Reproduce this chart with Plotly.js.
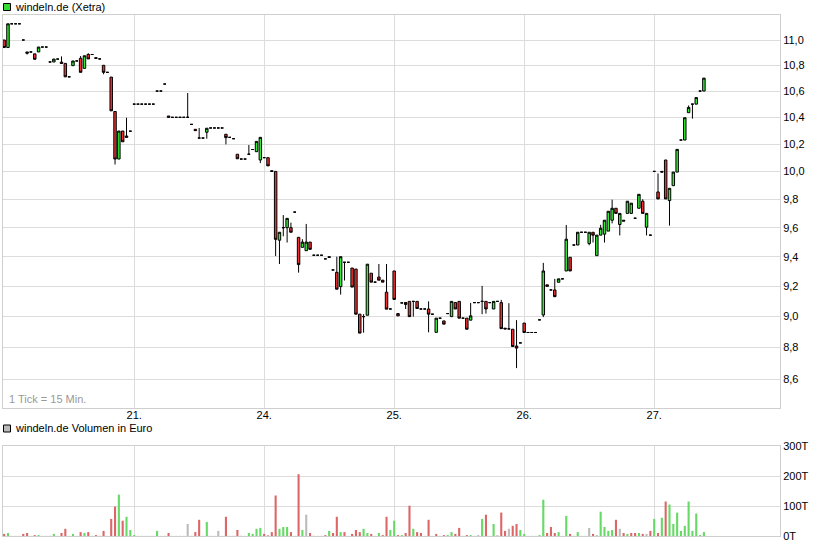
<!DOCTYPE html>
<html><head><meta charset="utf-8">
<script src="https://cdn.plot.ly/plotly-3.0.1.min.js"></script>
<style>html,body{margin:0;padding:0;background:#fff}#chart{width:821px;height:546px}</style>
</head><body><div id="chart"></div>
<script>
// 15-minute ticks; each trading day has 34 ticks (9:00 - 17:15)
const dayLabels = ['21.', '24.', '25.', '26.', '27.'];
const dayStartTicks = [34, 68, 102, 136, 170];
const priceTicks = [8.6, 8.8, 9.0, 9.2, 9.4, 9.6, 9.8, 10.0, 10.2, 10.4, 10.6, 10.8, 11.0];
const volumeTicks = [0, 100, 200, 300];

const opens = [
  11.00,10.94,11.13,11.13,11.13,11.00,10.905,10.905,10.89,10.905,10.944,10.944,10.826,10.826,10.849,10.825,10.815,10.71,10.797,10.834,10.855,10.776,10.885,10.885,10.86,10.85,10.80,10.745,10.708,10.444,10.09,10.297,10.26,10.296,
  10.50,10.50,10.50,10.50,10.50,10.50,10.60,10.60,10.654,10.41,10.40,10.40,10.40,10.40,10.40,10.347,10.31,10.245,10.245,10.288,10.32,10.32,10.32,10.32,10.273,10.25,10.24,10.125,10.09,10.09,10.125,10.16,10.144,10.083,
  10.10,10.10,10.005,10.00,9.513,9.60,9.60,9.60,9.709,9.533,9.464,9.441,9.50,9.41,9.41,9.41,9.385,9.40,9.31,9.294,9.198,9.362,9.362,9.323,9.316,9.016,9.00,9.009,9.288,9.228,9.262,9.241,9.161,9.05,
  9.303,9.02,9.09,9.093,9.10,9.10,9.10,9.05,9.05,9.05,9.016,8.898,8.99,8.972,9.02,9.00,9.093,9.10,8.99,8.99,8.977,9.092,9.092,9.10,9.10,9.092,9.05,9.10,9.092,8.925,8.92,8.918,8.81,8.83,
  8.958,8.897,8.897,8.897,8.979,9.011,9.21,9.176,9.176,9.227,9.25,9.303,9.396,9.48,9.48,9.568,9.568,9.49,9.568,9.407,9.548,9.555,9.576,9.652,9.736,9.622,9.652,9.70,9.70,9.666,9.736,9.786,9.603,9.548,
  10.00,9.852,10.00,10.083,9.79,9.897,9.995,10.23,10.23,10.435,10.50,10.50,10.60,10.60
];
const highs = [
  11.00,11.13,11.13,11.13,11.13,11.00,10.905,10.905,10.89,10.944,10.944,10.944,10.826,10.849,10.849,10.87,10.815,10.71,10.834,10.834,10.873,10.875,10.895,10.885,10.86,10.85,10.80,10.745,10.708,10.444,10.297,10.297,10.397,10.296,
  10.50,10.50,10.50,10.50,10.50,10.50,10.60,10.60,10.654,10.41,10.40,10.40,10.40,10.40,10.585,10.347,10.31,10.32,10.245,10.318,10.32,10.32,10.32,10.32,10.273,10.25,10.24,10.125,10.09,10.09,10.193,10.16,10.22,10.25,
  10.10,10.10,10.005,10.00,9.568,9.688,9.665,9.635,9.709,9.533,9.52,9.626,9.50,9.41,9.41,9.41,9.385,9.40,9.31,9.40,9.40,9.362,9.362,9.323,9.316,9.016,9.016,9.349,9.288,9.228,9.35,9.241,9.35,9.05,
  9.303,9.02,9.09,9.093,9.10,9.10,9.10,9.05,9.05,9.10,9.016,8.99,8.99,8.972,9.02,9.10,9.093,9.10,8.99,8.99,9.09,9.092,9.092,9.203,9.10,9.092,9.10,9.10,9.11,8.925,9.088,8.918,8.977,8.83,
  8.958,8.897,8.897,8.897,8.979,9.358,9.21,9.176,9.25,9.25,9.25,9.619,9.396,9.48,9.568,9.568,9.568,9.568,9.568,9.548,9.62,9.652,9.715,9.797,9.736,9.70,9.652,9.786,9.772,9.666,9.835,9.80,9.70,9.548,
  10.00,9.985,10.00,10.083,9.878,9.995,10.161,10.23,10.397,10.49,10.50,10.55,10.60,10.70
];
const lows = [
  10.94,10.94,11.13,11.13,11.13,11.00,10.885,10.905,10.847,10.905,10.944,10.944,10.826,10.826,10.849,10.815,10.71,10.71,10.797,10.834,10.745,10.776,10.85,10.885,10.855,10.85,10.73,10.745,10.449,10.05,10.09,10.217,10.25,10.296,
  10.50,10.50,10.50,10.50,10.50,10.50,10.60,10.60,10.654,10.40,10.40,10.40,10.40,10.40,10.40,10.347,10.30,10.245,10.245,10.24,10.32,10.32,10.32,10.32,10.198,10.25,10.24,10.092,10.09,10.09,10.125,10.16,10.144,10.06,
  10.10,10.04,10.00,9.404,9.35,9.54,9.497,9.568,9.709,9.292,9.464,9.441,9.45,9.41,9.41,9.41,9.385,9.395,9.31,9.181,9.145,9.239,9.362,9.195,9.016,8.893,8.896,9.009,9.228,9.228,9.241,9.228,9.049,9.05,
  9.113,9.005,9.09,9.05,9.00,9.00,9.053,9.05,9.05,8.898,9.016,8.898,8.99,8.951,9.02,9.00,9.05,8.99,8.99,8.918,8.977,9.092,9.092,9.016,9.02,9.092,9.05,9.10,8.922,8.92,8.92,8.807,8.67,8.83,
  8.897,8.897,8.897,8.897,8.979,8.997,9.20,9.176,9.131,9.227,9.25,9.303,9.303,9.48,9.48,9.568,9.568,9.478,9.497,9.407,9.548,9.497,9.576,9.63,9.70,9.546,9.646,9.70,9.70,9.666,9.736,9.70,9.546,9.548,
  10.00,9.802,9.995,9.802,9.614,9.897,9.995,10.23,10.23,10.435,10.39,10.50,10.60,10.60
];
const closes = [
  10.94,11.13,11.13,11.13,11.13,11.00,10.895,10.905,10.847,10.944,10.944,10.944,10.826,10.849,10.849,10.815,10.71,10.71,10.834,10.834,10.745,10.875,10.85,10.885,10.855,10.85,10.745,10.745,10.449,10.09,10.297,10.217,10.25,10.296,
  10.50,10.50,10.50,10.50,10.50,10.50,10.60,10.60,10.654,10.40,10.40,10.40,10.40,10.40,10.40,10.347,10.30,10.245,10.245,10.318,10.32,10.32,10.32,10.32,10.248,10.25,10.24,10.092,10.09,10.09,10.125,10.16,10.22,10.25,
  10.10,10.04,10.00,9.519,9.568,9.60,9.665,9.568,9.709,9.346,9.50,9.50,9.45,9.41,9.41,9.41,9.385,9.395,9.31,9.181,9.40,9.362,9.362,9.195,9.016,8.893,9.00,9.349,9.228,9.228,9.241,9.228,9.049,9.05,
  9.113,9.005,9.09,9.08,9.00,9.10,9.053,9.05,9.05,9.016,9.016,8.99,8.99,8.951,9.02,9.10,9.05,8.99,8.99,8.918,9.005,9.092,9.092,9.10,9.05,9.092,9.10,9.10,8.922,8.92,8.92,8.807,8.797,8.83,
  8.897,8.897,8.897,8.897,8.979,9.303,9.20,9.176,9.131,9.25,9.25,9.52,9.303,9.48,9.568,9.568,9.568,9.568,9.548,9.548,9.596,9.652,9.715,9.736,9.70,9.70,9.646,9.786,9.772,9.666,9.835,9.70,9.70,9.548,
  10.00,9.802,9.995,9.802,9.878,9.995,10.161,10.23,10.397,10.475,10.50,10.55,10.60,10.70
];
// volume in thousand euro (T)
const volumes = [
  7,10,0.5,0.5,0.5,7,10,0.5,3,3,0.5,0.5,0.5,7,0.5,10,24,0.5,7,0.5,13,10,13,0.5,3,0.5,17,0.5,57,98,138,51,64,20,
  3,0.5,0.5,0.5,0.5,0.5,17,0.5,0.5,10,0.5,0.5,0.5,0.5,40,0.5,13,54,0.5,47,0.5,0.5,17,0.5,64,0.5,0.5,20,0.5,0.5,10,7,24,27,
  7,2,13,135,24,30,30,13,0.5,206,20,71,10,0.5,0.5,0.5,3,17,10,64,13,13,0.5,7,20,13,24,10,7,0.5,10,3,64,20,
  51,3,3,10,101,24,13,10,0.5,54,0.5,7,0.5,3,3,13,7,27,0.5,3,3,0.5,3,57,71,0.5,40,3,78,17,24,34,40,20,
  7,0.5,0.5,0.5,3,121,10,30,10,13,0.5,67,7,0.5,13,0.5,0.5,27,7,3,81,30,17,20,54,24,10,7,10,10,10,7,7,17,
  57,10,61,115,105,40,78,17,34,115,17,75,3,13
];

const ticks = opens.map((_, i) => i);
const volColors = closes.map((c, i) => {
  const prev = i === 0 ? opens[0] : closes[i - 1];
  return c > prev ? '#66d966' : (c < prev ? '#dd6666' : '#bbbbbb');
});

const GRID = '#dcdcdc', FRAME = '#cfcfcf';
const xRange = [-0.3, 202.9];

const traces = [
  {
    type: 'candlestick', x: ticks, open: opens, high: highs, low: lows, close: closes,
    xaxis: 'x', yaxis: 'y',
    increasing: {line: {color: '#000', width: 1}, fillcolor: '#33ee33'},
    decreasing: {line: {color: '#000', width: 1}, fillcolor: '#f03030'},
    whiskerwidth: 0, hoverinfo: 'skip', showlegend: false
  },
  {
    type: 'bar', x: ticks, y: volumes, xaxis: 'x2', yaxis: 'y2',
    marker: {color: volColors, line: {width: 0}}, width: 0.55,
    hoverinfo: 'skip', showlegend: false
  }
];

const px = v => (v - 3) / 777;
const py = v => (536 - v) / 521;

const layout = {
  width: 821, height: 546,
  margin: {l: 3, r: 41, t: 15, b: 10, pad: 0},
  paper_bgcolor: '#fff', plot_bgcolor: '#fff',
  showlegend: false,
  boxgap: 0.08,
  font: {family: 'Liberation Sans, Arial, sans-serif', size: 11, color: '#000'},
  xaxis: {
    domain: [0, 1], range: xRange, anchor: 'y',
    tickmode: 'array', tickvals: dayStartTicks, ticktext: dayLabels,
    showgrid: true, gridcolor: GRID, gridwidth: 1, zeroline: false,
    showline: true, mirror: true, linecolor: FRAME, linewidth: 1,
    ticks: '', ticklabelstandoff: -4, rangeslider: {visible: false}, fixedrange: true,
    tickfont: {size: 11, color: '#000'}
  },
  yaxis: {
    domain: [0.2451, 1], type: 'log', range: [0.92536, 1.04927], anchor: 'x', side: 'right',
    tickmode: 'array', tickvals: priceTicks,
    ticktext: priceTicks.map(v => v.toFixed(1).replace('.', ',')),
    showgrid: true, gridcolor: GRID, gridwidth: 1, zeroline: false,
    showline: true, mirror: true, linecolor: FRAME, linewidth: 1,
    ticks: '', fixedrange: true,
    tickfont: {size: 11, color: '#000'}
  },
  xaxis2: {
    domain: [0, 1], range: xRange, anchor: 'y2',
    tickmode: 'array', tickvals: dayStartTicks, showticklabels: false,
    showgrid: true, gridcolor: GRID, gridwidth: 1, zeroline: false,
    showline: true, mirror: true, linecolor: FRAME, linewidth: 1,
    ticks: '', fixedrange: true
  },
  yaxis2: {
    domain: [0, 0.1727], range: [0, 300], anchor: 'x2', side: 'right',
    tickmode: 'array', tickvals: volumeTicks, ticktext: volumeTicks.map(v => v + 'T'),
    showgrid: true, gridcolor: GRID, gridwidth: 1, zeroline: false,
    showline: true, mirror: true, linecolor: FRAME, linewidth: 1,
    ticks: '', fixedrange: true,
    tickfont: {size: 11, color: '#000'}
  },
  shapes: [
    {type: 'rect', xref: 'paper', yref: 'paper', x0: px(3.5), x1: px(10.5), y0: py(10.5), y1: py(3.5),
     fillcolor: '#33dd33', line: {color: '#000', width: 1}},
    {type: 'rect', xref: 'paper', yref: 'paper', x0: px(3.5), x1: px(10.5), y0: py(432), y1: py(425),
     fillcolor: '#bbbbbb', line: {color: '#000', width: 1}}
  ],
  annotations: [
    {xref: 'paper', yref: 'paper', x: px(14), y: py(6.5), xanchor: 'left', yanchor: 'middle',
     text: 'windeln.de (Xetra)', showarrow: false, borderpad: 0,
     font: {size: 11, color: '#000'}},
    {xref: 'paper', yref: 'paper', x: px(14), y: py(428.5), xanchor: 'left', yanchor: 'middle',
     text: 'windeln.de Volumen in Euro', showarrow: false, borderpad: 0,
     font: {size: 11, color: '#000'}},
    {xref: 'paper', yref: 'paper', x: px(7.5), y: py(398.5), xanchor: 'left', yanchor: 'middle',
     text: '1 Tick = 15 Min.', showarrow: false, borderpad: 0,
     font: {size: 11, color: '#999999'}}
  ]
};

Plotly.newPlot('chart', traces, layout, {displayModeBar: false, staticPlot: true});
</script>
</body></html>
